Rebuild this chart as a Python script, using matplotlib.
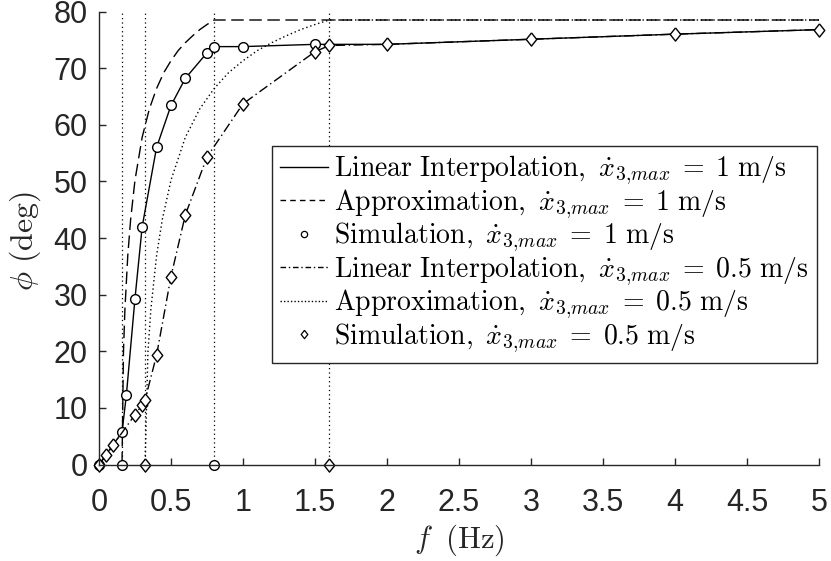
import numpy as np
import matplotlib
matplotlib.use('Agg')
import matplotlib.pyplot as plt
from matplotlib.lines import Line2D

plt.rcParams['mathtext.fontset'] = 'cm'
plt.rcParams['font.family'] = ['Liberation Sans', 'DejaVu Sans']

# simulation, x3max = 1 m/s (circles) -> linear interpolation drawn through them
f_sim1 = [0, 0.16, 0.19, 0.25, 0.3, 0.4, 0.5, 0.6, 0.75, 0.8, 1.0, 1.5, 2, 3, 4, 5]
phi_sim1 = [0, 5.7, 12.2, 29.3, 42.0, 56.0, 63.4, 68.2, 72.7, 73.8, 73.8, 74.2, 74.2, 75.1, 76.0, 76.8]

# simulation, x3max = 0.5 m/s (diamonds)
f_sim05 = [0, 0.05, 0.1, 0.25, 0.3, 0.32, 0.4, 0.5, 0.6, 0.75, 1.0, 1.5, 1.6, 2, 3, 4, 5]
phi_sim05 = [0, 1.6, 3.5, 8.8, 10.5, 11.4, 19.3, 33.2, 44.1, 54.3, 63.7, 72.9, 74.0, 74.2, 75.1, 76.0, 76.8]

# approximation curves
f_apx1 = [0.16, 0.17, 0.18, 0.2, 0.22, 0.25, 0.3, 0.35, 0.4, 0.45, 0.5, 0.55, 0.6, 0.65, 0.7, 0.75, 0.8, 5.0]
phi_apx1 = [0, 19.8, 27.3, 36.9, 43.3, 50.2, 57.8, 62.8, 66.4, 69.2, 71.3, 73.1, 74.5, 75.7, 76.8, 77.7, 78.5, 78.5]
f_apx05 = [0.32, 0.34, 0.36, 0.4, 0.44, 0.5, 0.6, 0.7, 0.8, 0.9, 1.0, 1.1, 1.2, 1.3, 1.4, 1.5, 1.6, 5.0]
phi_apx05 = [0, 19.8, 27.3, 36.9, 43.3, 50.2, 57.8, 62.8, 66.4, 69.2, 71.3, 73.1, 74.5, 75.7, 76.8, 77.7, 78.5, 78.5]

# cut-off frequencies (vertical dotted lines + markers on the axis)
f_cut1 = [0.16, 0.8]
f_cut05 = [0.32, 1.6]

xdot = r'\dot{x}_{3{,}max}\;=\;'
labels = [r'$\mathrm{Linear\ Interpolation,}\ ' + xdot + r'1\ \mathrm{m/s}$',
          r'$\mathrm{Approximation,}\ ' + xdot + r'1\ \mathrm{m/s}$',
          r'$\mathrm{Simulation,}\ ' + xdot + r'1\ \mathrm{m/s}$',
          r'$\mathrm{Linear\ Interpolation,}\ ' + xdot + r'0.5\ \mathrm{m/s}$',
          r'$\mathrm{Approximation,}\ ' + xdot + r'0.5\ \mathrm{m/s}$',
          r'$\mathrm{Simulation,}\ ' + xdot + r'0.5\ \mathrm{m/s}$']

diamond = [(0, 1), (0.8, 0), (0, -1), (-0.8, 0), (0, 1)]
gray = '#262626'

fig = plt.figure(figsize=(8.31, 5.61), dpi=100)
ax = fig.add_axes([0.1191, 0.172, 0.8664, 0.8075])

ax.vlines(f_cut1 + f_cut05, 0, 80, colors='k', linestyles=[(0, (1, 2.5))], linewidth=0.9)

f_sim1 = np.array(f_sim1)
phi_sim1 = np.array(phi_sim1)
mark1 = f_sim1 <= 1.5

ax.plot(f_sim1, phi_sim1, color='k', lw=1.0, clip_on=False)
ax.plot(f_apx1, phi_apx1, color='k', lw=1.0, ls=(0, (9, 4)), clip_on=False)
ax.plot(f_sim1[mark1], phi_sim1[mark1], ls='none', marker='o', ms=7, mfc='white', mec='k', mew=1.0, clip_on=False)
ax.plot(f_cut1, [0, 0], ls='none', marker='o', ms=7, mfc='white', mec='k', mew=1.0, clip_on=False)
ax.plot(f_sim05, phi_sim05, color='k', lw=1.0, ls=(0, (7, 2.5, 1, 2.5)), clip_on=False)
ax.plot(f_apx05, phi_apx05, color='k', lw=1.0, ls=(0, (1, 2)), clip_on=False)
ax.plot(f_sim05, phi_sim05, ls='none', marker=diamond, ms=9.5, mfc='white', mec='k', mew=1.0, clip_on=False)
ax.plot(f_cut05, [0, 0], ls='none', marker=diamond, ms=9.5, mfc='white', mec='k', mew=1.0, clip_on=False)

ax.set_xlim(0, 5)
ax.set_ylim(0, 80)
ax.set_xticks(np.arange(0, 5.01, 0.5))
ax.set_xticklabels(['0', '0.5', '1', '1.5', '2', '2.5', '3', '3.5', '4', '4.5', '5'])
ax.set_yticks(np.arange(0, 81, 10))

for s in ['top', 'right']:
    ax.spines[s].set_visible(False)
for s in ['left', 'bottom']:
    ax.spines[s].set_color(gray)
    ax.spines[s].set_linewidth(1.0)
ax.tick_params(direction='in', length=5, width=1.0, color=gray, labelcolor=gray, labelsize=22)
ax.tick_params(axis='x', pad=17)
ax.tick_params(axis='y', pad=8)

ax.set_xlabel(r'$f\;\ \mathrm{(Hz)}$', fontsize=22, color=gray)
ax.set_ylabel(r'$\phi\ \mathrm{(deg)}$', fontsize=23, color=gray)
ax.xaxis.set_label_coords(0.5, -0.128)
ax.yaxis.set_label_coords(-0.078, 0.493)

handles = [Line2D([], [], color='k', lw=1.0),
           Line2D([], [], color='k', lw=1.0, ls=(0, (4, 3))),
           Line2D([], [], ls='none', marker='o', ms=4.5, mfc='white', mec='k', mew=0.9),
           Line2D([], [], color='k', lw=1.0, ls=(0, (4, 2, 1, 2))),
           Line2D([], [], color='k', lw=1.0, ls=(0, (1, 1.5))),
           Line2D([], [], ls='none', marker=diamond, ms=6, mfc='white', mec='k', mew=0.9)]
leg = ax.legend(handles, labels, loc='upper left', bbox_to_anchor=(272 / 831, 1 - 145.7 / 561),
                bbox_transform=fig.transFigure, borderaxespad=0, fontsize=20, frameon=True,
                fancybox=False, handlelength=1.7, handletextpad=0.25, borderpad=0.3,
                labelspacing=0.0)
leg.get_frame().set_edgecolor(gray)
leg.get_frame().set_linewidth(1.0)
leg.get_frame().set_alpha(1)

plt.savefig('out.png', dpi=100)
